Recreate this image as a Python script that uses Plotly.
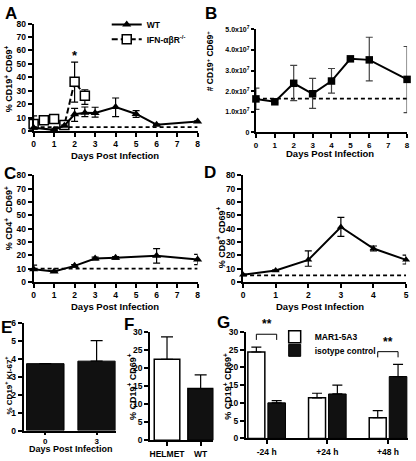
import plotly.graph_objects as go

W, H = 416, 461

# ---------------- data ----------------
# Panel A: % CD19+ CD69+
a_wt_days = [0, 1, 1.5, 2, 2.5, 3, 4, 5, 6, 8]
a_wt_vals = [2.5, 1.0, 4.1, 12.6, 13.8, 13.5, 18.0, 12.8, 4.8, 7.2]
a_wt_err_up = [0.8, 0.5, 0.5, 4.4, 4.2, 4.3, 6.7, 2.5, 0.5, 0.5]
a_wt_err_dn = [0.8, 0.5, 0.5, 5.3, 2.9, 3.0, 7.1, 2.5, 0.5, 0.5]
a_ko_days = [0, 0.5, 1, 1.5, 2, 2.5]
a_ko_vals = [5.3, 8.2, 9.0, 4.6, 36.8, 26.4]
a_ko_err_up = [6.1, 0.8, 0.8, 0.5, 14.6, 4.4]
a_ko_err_dn = [2.0, 0.8, 0.8, 0.5, 15.2, 6.5]
a_baseline = [3.0, 3.0]
a_base_days = [0, 8]

# Panel B: # CD19+ CD69+
b_days = [0, 1, 2, 3, 4, 5, 6, 8]
b_vals = [1.62e7, 1.48e7, 2.38e7, 1.87e7, 2.49e7, 3.57e7, 3.52e7, 2.57e7]
b_err_up = [0.52e7, 0.05e7, 0.87e7, 0.75e7, 0.61e7, 0.05e7, 1.10e7, 1.60e7]
b_err_dn = [0.51e7, 0.05e7, 0.84e7, 0.71e7, 0.59e7, 0.05e7, 1.02e7, 1.62e7]
b_baseline = [1.63e7, 1.63e7]
b_base_days = [0, 8]
b_tickvals = [0, 1e7, 2e7, 3e7, 4e7, 5e7]
b_ticktext = ["0", "1.0x10<sup>7</sup>", "2.0x10<sup>7</sup>", "3.0x10<sup>7</sup>",
              "4.0x10<sup>7</sup>", "5.0x10<sup>7</sup>"]

# Panel C: % CD4+ CD69+
c_days = [0, 1, 2, 3, 4, 6, 8]
c_vals = [9.5, 7.8, 12.0, 17.5, 18.0, 19.5, 16.8]
c_err_up = [3.0, 0.5, 1.0, 1.0, 1.0, 5.5, 3.8]
c_err_dn = [0.5, 0.5, 1.0, 1.0, 1.0, 5.5, 3.8]
c_baseline = [10.0, 10.0]
c_base_days = [0, 8]

# Panel D: % CD8+ CD69+
d_days = [0, 1, 2, 3, 4, 5]
d_vals = [5.3, 8.5, 16.5, 41.2, 25.0, 16.5]
d_err_up = [0.5, 0.5, 6.7, 7.2, 1.9, 3.6]
d_err_dn = [0.5, 0.5, 4.8, 7.1, 1.8, 3.1]
d_baseline = [4.8, 4.8]
d_base_days = [0, 5]

# Panel E: % CD19+ Ki-67+
e_cats = ["0", "3"]
e_vals = [3.73, 3.87]
e_err = [0.0, 1.15]

# Panel F: % CD19+ CD69+
f_cats = ["HELMET", "WT"]
f_vals = [22.4, 14.3]
f_err = [6.2, 3.8]

# Panel G: % CD19+ CD69+
g_cats = ["-24 h", "+24 h", "+48 h"]
g_mar1 = [24.3, 11.4, 5.8]
g_mar1_err = [1.4, 1.3, 2.0]
g_iso = [10.0, 12.5, 17.4]
g_iso_err = [0.6, 2.5, 3.4]
g_sig = ["**", "", "**"]

# ---------------- helpers ----------------
FONT = "Liberation Sans"


def dx(a, b):
    return [a / W, b / W]


def dy(top, bottom):
    return [1 - bottom / H, 1 - top / H]


def tf(size=8.5):
    return dict(family=FONT, size=size, color="black", weight="bold")


def ax_style(**kw):
    base = dict(showgrid=False, zeroline=False, showline=True, linecolor="black",
                linewidth=2, ticks="outside", ticklen=4, tickwidth=2, tickcolor="black",
                tickfont=tf())
    base.update(kw)
    return base


def err(up, dn=None, width=3.5, color="black"):
    d = dict(type="data", array=up, color=color, thickness=1.2, width=width)
    if dn is not None:
        d.update(symmetric=False, arrayminus=dn)
    else:
        d.update(symmetric=False, arrayminus=[0] * len(up))
    return d


fig = go.Figure()

# ---- Panel A ----
fig.add_trace(go.Scatter(x=a_base_days, y=a_baseline, mode="lines", xaxis="x", yaxis="y",
                         line=dict(color="black", width=1.8, dash="4px,3px"), showlegend=False))
fig.add_trace(go.Scatter(x=a_ko_days, y=a_ko_vals, mode="lines+markers", xaxis="x", yaxis="y",
                         name="IFN-αβR<sup>-/-</sup>", legend="legend3",
                         line=dict(color="black", width=2, dash="6px,3px"),
                         marker=dict(symbol="square", size=9, color="white",
                                     line=dict(color="black", width=1.5)),
                         error_y=err(a_ko_err_up, a_ko_err_dn), cliponaxis=False))
fig.add_trace(go.Scatter(x=a_wt_days, y=a_wt_vals, mode="lines+markers", xaxis="x", yaxis="y",
                         name="WT", legend="legend",
                         line=dict(color="black", width=2),
                         marker=dict(symbol="triangle-up", size=8, color="black"),
                         error_y=err(a_wt_err_up, a_wt_err_dn), cliponaxis=False))

# ---- Panel B ----
fig.add_trace(go.Scatter(x=b_base_days, y=b_baseline, mode="lines", xaxis="x2", yaxis="y2",
                         line=dict(color="black", width=1.8, dash="4px,3px"), showlegend=False))
fig.add_trace(go.Scatter(x=b_days, y=b_vals, mode="lines+markers", xaxis="x2", yaxis="y2",
                         showlegend=False, line=dict(color="black", width=2),
                         marker=dict(symbol="square", size=7.5, color="black"),
                         error_y=err(b_err_up, b_err_dn, color="#444"), cliponaxis=False))

# ---- Panel C ----
fig.add_trace(go.Scatter(x=c_base_days, y=c_baseline, mode="lines", xaxis="x3", yaxis="y3",
                         line=dict(color="black", width=1.8, dash="4px,3px"), showlegend=False))
fig.add_trace(go.Scatter(x=c_days, y=c_vals, mode="lines+markers", xaxis="x3", yaxis="y3",
                         showlegend=False, line=dict(color="black", width=2),
                         marker=dict(symbol="triangle-up", size=8, color="black"),
                         error_y=err(c_err_up, c_err_dn), cliponaxis=False))

# ---- Panel D ----
fig.add_trace(go.Scatter(x=d_base_days, y=d_baseline, mode="lines", xaxis="x4", yaxis="y4",
                         line=dict(color="black", width=1.8, dash="4px,3px"), showlegend=False))
fig.add_trace(go.Scatter(x=d_days, y=d_vals, mode="lines+markers", xaxis="x4", yaxis="y4",
                         showlegend=False, line=dict(color="black", width=2),
                         marker=dict(symbol="triangle-up", size=7, color="black"),
                         error_y=err(d_err_up, d_err_dn), cliponaxis=False))

# ---- Panel E ----
fig.add_trace(go.Bar(x=e_cats, y=e_vals, xaxis="x5", yaxis="y5", width=0.73,
                     marker=dict(color="#111111", line=dict(color="black", width=1)),
                     error_y=err(e_err, width=6), showlegend=False))

# ---- Panel F ----
fig.add_trace(go.Bar(x=f_cats, y=f_vals, xaxis="x6", yaxis="y6", width=0.76,
                     marker=dict(color=["white", "#111111"], line=dict(color="black", width=1.5)),
                     error_y=err(f_err, width=6), showlegend=False))

# ---- Panel G ----
fig.add_trace(go.Bar(x=g_cats, y=g_mar1, xaxis="x7", yaxis="y7", width=0.28, offset=-0.31,
                     name="MAR1-5A3", legend="legend2",
                     marker=dict(color="white", line=dict(color="black", width=1.5)),
                     error_y=err(g_mar1_err, width=5)))
fig.add_trace(go.Bar(x=g_cats, y=g_iso, xaxis="x7", yaxis="y7", width=0.29, offset=0.02,
                     name="isotype control", legend="legend4",
                     marker=dict(color="#111111", line=dict(color="black", width=1)),
                     error_y=err(g_iso_err, width=5)))

# ---------------- axes ----------------
lay = {}
pct_ticks = dict(tickvals=list(range(0, 81, 10)))
lay["xaxis"] = ax_style(domain=dx(32, 198), range=[0, 8], anchor="y", tickvals=list(range(0, 9)))
lay["yaxis"] = ax_style(domain=dy(19, 129), range=[0, 80], anchor="x", **pct_ticks)
lay["xaxis2"] = ax_style(domain=dx(257, 410), range=[0, 8], anchor="y2", tickvals=list(range(0, 9)),
                         tickfont=tf(8))
lay["yaxis2"] = ax_style(domain=dy(25, 130), range=[0, 5e7], anchor="x2", ticklen=3,
                         tickvals=b_tickvals, ticktext=b_ticktext, tickfont=tf(7))
lay["xaxis3"] = ax_style(domain=dx(32, 198), range=[0, 8], anchor="y3", tickvals=list(range(0, 9)))
lay["yaxis3"] = ax_style(domain=dy(174, 283), range=[0, 80], anchor="x3", **pct_ticks)
lay["xaxis4"] = ax_style(domain=dx(244, 409), range=[0, 5], anchor="y4", tickvals=list(range(0, 6)))
lay["yaxis4"] = ax_style(domain=dy(174, 283), range=[0, 80], anchor="x4", **pct_ticks)
lay["xaxis5"] = ax_style(domain=dx(22, 115), range=[-0.42, 1.37], anchor="y5", type="category",
                         ticklen=2, tickfont=tf(8))
lay["yaxis5"] = ax_style(domain=dy(325, 435), range=[0, 6], anchor="x5", tickvals=list(range(0, 7)))
lay["xaxis6"] = ax_style(domain=dx(150, 214), range=[-0.5, 1.38], anchor="y6", type="category")
lay["yaxis6"] = ax_style(domain=dy(334, 445), range=[0, 30], anchor="x6", tickvals=list(range(0, 31, 5)))
lay["xaxis7"] = ax_style(domain=dx(247, 411), range=[-0.34, 2.33], anchor="y7", type="category")
lay["yaxis7"] = ax_style(domain=dy(334, 443), range=[0, 30], anchor="x7", tickvals=list(range(0, 31, 5)))
fig.update_layout(**lay)

# ---------------- annotations ----------------
ann = []


def text(x, y, s, size=9, angle=0, bold=True, xanchor="center", yanchor="middle", xref="paper", yref="paper"):
    ann.append(dict(x=x, y=y, xref=xref, yref=yref, text=s, showarrow=False, textangle=angle,
                    xanchor=xanchor, yanchor=yanchor,
                    font=dict(family=FONT, size=size, color="black", weight="bold" if bold else "normal")))


def px(xp, yp):
    return xp / W, 1 - yp / H


# panel letters
for letter, (xp, yp) in {"A": (9, 9), "B": (212, 9), "C": (8, 172), "D": (211, 171),
                         "E": (5, 330), "F": (129, 327), "G": (224, 325)}.items():
    text(*px(xp, yp), letter, size=17)

# x titles
for (xp, yp) in [(114, 154), (332, 152), (114, 308), (322, 308)]:
    text(*px(xp, yp), "Days Post Infection", size=9.5)
text(*px(70, 461), "Days Post Infection", size=9, yanchor="bottom")

# y titles
text(*px(7, 75), "% CD19<sup>+</sup> CD69<sup>+</sup>", angle=-90)
text(*px(211, 57), "# CD19<sup>+</sup> CD69<sup>+</sup>", angle=-90, size=8.5)
text(*px(7, 218), "% CD4<sup>+</sup>  CD69<sup>+</sup>", angle=-90)
text(*px(222, 237), "% CD8<sup>+</sup> CD69<sup>+</sup>", angle=-90)
text(*px(6, 388), "% CD19<sup>+</sup> Ki-67<sup>+</sup>", angle=-90, size=8)
text(*px(131, 390), "% CD19<sup>+</sup> CD69<sup>+</sup>", angle=-90)
text(*px(228, 390), "% CD19<sup>+</sup> CD69<sup>+</sup>", angle=-90)

# significance star in A (above the highest IFN error bar)
i_max = a_ko_vals.index(max(a_ko_vals))
text(a_ko_days[i_max], a_ko_vals[i_max] + a_ko_err_up[i_max] + 5, "*", size=13,
     xref="x", yref="y")

# brackets in G
shapes = []
for i, s in enumerate(g_sig):
    if not s:
        continue
    top = max(g_mar1[i] + g_mar1_err[i], g_iso[i] + g_iso_err[i])
    yb = top + 3.6
    x0 = i - 0.31 + 0.14
    x1 = i + 0.02 + 0.145
    for (xa, ya, xb, yb2) in [(x0, yb, x1, yb), (x0, yb, x0, yb - 1.6), (x1, yb, x1, yb - 1.6)]:
        shapes.append(dict(type="line", xref="x7", yref="y7", x0=xa, y0=ya, x1=xb, y1=yb2,
                           line=dict(color="black", width=1)))
    text((x0 + x1) / 2, yb + 0.3, s, size=12, xref="x7", yref="y7", yanchor="bottom")


def leg(xp, yp, size=8.5):
    return dict(x=xp / W, y=1 - yp / H, xanchor="left", yanchor="middle", bgcolor="rgba(0,0,0,0)",
                font=tf(size), itemwidth=30, borderwidth=0)


fig.update_layout(
    width=W, height=H, margin=dict(l=0, r=0, t=0, b=0),
    paper_bgcolor="white", plot_bgcolor="white",
    annotations=ann, shapes=shapes,
    showlegend=True,
    legend=leg(106, 20),
    legend3=leg(106, 35),
    legend2=leg(276, 339),
    legend4=leg(276, 353),
)

fig.write_html("out.html", config={"displayModeBar": False},
               post_script="document.body.style.margin='0';document.body.style.overflow='hidden';")
